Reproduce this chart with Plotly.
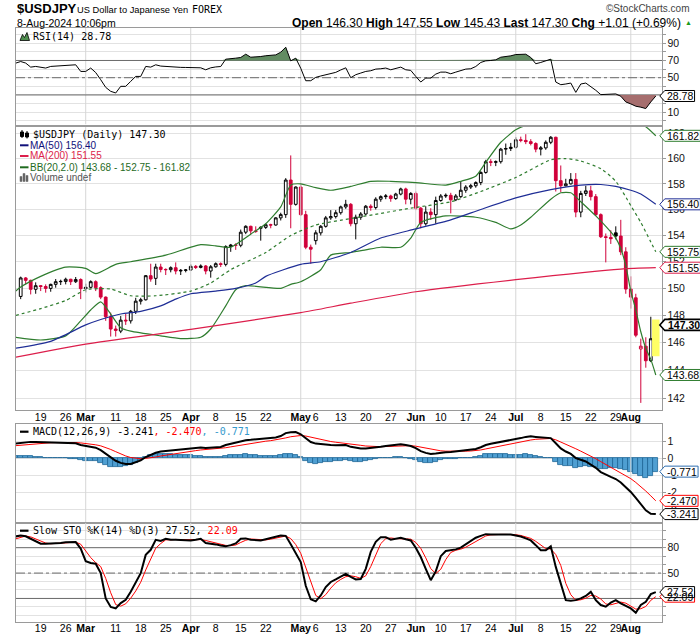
import numpy as np
import pandas as pd
import plotly.graph_objects as go

# ------------------------------------------------------------------ data
days = [d.strftime("%Y-%m-%d") for d in pd.bdate_range("2024-02-12", "2024-08-08")]
pos = {d: k for k, d in enumerate(days)}
candle_days = days[1:]

opens = [149.40, 150.78, 150.60, 149.93, 150.20, 150.14, 150.00, 150.30, 150.50, 150.52,
         150.68, 150.50, 150.66, 149.98, 150.08, 150.50, 150.05, 149.35, 147.90, 147.00,
         146.85, 147.65, 147.60, 148.30, 149.05, 149.15, 150.95, 150.75, 151.60, 151.42,
         151.40, 151.55, 151.30, 151.35, 151.38, 151.65, 151.57, 151.68, 151.30, 151.62,
         151.85, 151.80, 153.15, 153.27, 153.25, 154.25, 154.70, 154.35, 154.55, 154.62,
         154.82, 154.80, 155.35, 155.60, 158.30, 156.40, 157.75, 155.60, 153.10, 153.60,
         154.20, 154.70, 155.35, 155.45, 155.75, 156.20, 156.40, 154.90, 155.40, 155.65,
         156.25, 156.15, 156.80, 157.00, 157.05, 156.85, 157.20, 157.60, 156.80, 157.25,
         156.10, 154.90, 155.80, 155.60, 156.70, 157.05, 157.10, 156.75, 157.00, 157.50,
         157.75, 157.85, 158.10, 158.90, 159.75, 159.70, 159.75, 160.75, 160.80, 160.90,
         161.50, 161.45, 161.35, 161.20, 160.75, 160.85, 161.30, 161.70, 158.25, 157.85,
         158.00, 158.35, 155.80, 157.25, 157.45, 157.00, 155.60, 153.90, 153.85, 154.20,
         153.95, 152.75, 149.95, 149.30, 145.55, 145.75, 144.70, 146.30]
highs = [150.88, 150.85, 150.65, 150.45, 150.25, 150.30, 150.35, 150.70, 150.65, 150.80,
         150.72, 150.85, 150.75, 150.35, 150.60, 150.60, 150.15, 149.40, 148.20, 147.25,
         147.95, 148.10, 148.40, 149.30, 149.30, 151.00, 151.85, 151.85, 151.85, 151.50,
         151.65, 151.95, 151.45, 151.45, 151.80, 151.75, 151.80, 151.75, 151.75, 151.95,
         151.95, 153.25, 153.35, 153.40, 154.45, 154.78, 154.75, 154.70, 154.70, 154.90,
         154.90, 155.40, 155.75, 158.45, 160.25, 157.80, 157.95, 155.90, 153.30, 154.40,
         154.80, 155.50, 155.95, 155.95, 156.30, 156.75, 156.50, 155.60, 155.80, 156.35,
         156.40, 156.95, 157.10, 157.20, 157.15, 157.30, 157.70, 157.70, 157.35, 157.40,
         156.20, 156.25, 156.10, 157.00, 157.20, 157.25, 157.30, 157.20, 158.20, 157.90,
         158.00, 158.20, 159.00, 159.90, 159.95, 159.85, 160.85, 161.20, 161.25, 161.70,
         161.75, 161.95, 161.55, 161.30, 161.00, 161.45, 161.80, 161.75, 159.45, 158.40,
         158.85, 158.85, 157.45, 157.85, 157.85, 157.20, 155.70, 154.15, 154.40, 154.70,
         155.20, 153.10, 150.90, 149.60, 146.30, 146.40, 147.90, 147.55]
lows = [149.20, 150.30, 149.55, 149.60, 149.80, 149.68, 149.75, 150.05, 150.25, 150.30,
        150.25, 150.40, 149.20, 149.70, 150.00, 149.80, 149.20, 147.60, 146.45, 146.45,
        146.70, 147.30, 147.40, 148.10, 148.80, 149.10, 150.50, 150.25, 151.20, 151.00,
        151.20, 151.05, 151.00, 151.20, 151.30, 151.45, 151.50, 151.05, 150.80, 151.55,
        151.60, 151.65, 152.75, 152.90, 153.10, 154.10, 154.10, 154.20, 153.60, 154.50,
        154.55, 154.75, 155.15, 155.35, 154.55, 156.30, 155.50, 152.95, 151.85, 153.30,
        154.00, 154.60, 155.20, 155.30, 155.60, 156.05, 154.70, 153.70, 155.20, 155.55,
        155.90, 156.00, 156.60, 156.80, 156.60, 156.75, 157.10, 156.40, 156.40, 155.95,
        154.55, 154.75, 155.20, 154.90, 156.60, 156.90, 155.70, 156.65, 156.90, 157.30,
        157.60, 157.70, 157.90, 158.80, 159.40, 159.40, 159.60, 160.30, 160.60, 160.80,
        161.30, 161.15, 161.05, 160.50, 160.25, 160.70, 161.15, 157.40, 157.35, 157.80,
        157.95, 155.40, 155.40, 157.05, 156.70, 155.50, 153.80, 151.95, 153.35, 153.70,
        152.50, 149.60, 148.50, 146.40, 141.70, 144.20, 144.60, 145.43]
closes = [150.78, 150.60, 149.93, 150.20, 150.14, 150.00, 150.30, 150.50, 150.52, 150.68,
          150.50, 150.66, 149.98, 150.08, 150.50, 150.05, 149.35, 147.90, 147.00, 146.90,
          147.65, 147.60, 148.30, 149.05, 149.15, 150.95, 150.70, 151.60, 151.42, 151.40,
          151.55, 151.30, 151.35, 151.38, 151.65, 151.57, 151.68, 151.30, 151.62, 151.85,
          151.80, 153.15, 153.27, 153.25, 154.25, 154.70, 154.35, 154.30, 154.62, 154.82,
          154.80, 155.35, 155.60, 158.30, 156.40, 157.75, 155.60, 153.10, 152.95, 154.20,
          154.70, 155.35, 155.45, 155.75, 156.20, 156.40, 154.90, 155.40, 155.65, 156.25,
          156.15, 156.80, 157.00, 157.05, 156.85, 157.20, 157.60, 156.80, 157.25, 156.10,
          154.90, 155.80, 155.60, 156.70, 157.05, 157.10, 156.75, 157.05, 157.50, 157.75,
          157.85, 158.10, 158.90, 159.75, 159.70, 159.75, 160.75, 160.80, 160.90, 161.50,
          161.45, 161.35, 161.20, 160.75, 160.85, 161.30, 161.70, 158.25, 157.85, 158.00,
          158.35, 155.80, 157.25, 157.45, 157.00, 155.60, 153.90, 153.85, 153.75, 153.95,
          152.75, 149.95, 149.35, 146.55, 145.75, 144.70, 146.29, 147.30]
prev_close_first = 149.35   # close of 12-Feb

ma50_days = ["2024-02-12", "2024-02-21", "2024-03-01", "2024-03-06", "2024-03-12", "2024-03-18",
             "2024-03-22", "2024-03-27", "2024-04-01", "2024-04-08", "2024-04-12", "2024-04-18",
             "2024-04-22", "2024-05-01", "2024-05-07", "2024-05-15", "2024-05-23", "2024-06-03",
             "2024-06-12", "2024-06-20", "2024-07-01", "2024-07-10", "2024-07-18", "2024-07-24",
             "2024-07-29", "2024-08-01", "2024-08-05", "2024-08-08"]
ma50_vals = [145.6, 146.1, 147.3, 147.7, 148.1, 148.3, 148.7, 149.2, 149.6, 149.8, 150.0, 150.4,
             150.9, 151.8, 152.0, 152.7, 153.8, 154.5, 155.2, 156.0, 156.9, 157.55, 157.9, 157.95,
             157.8, 157.5, 157.2, 156.40]

ma200_days = ["2024-02-12", "2024-03-01", "2024-04-01", "2024-05-01", "2024-05-15", "2024-06-03",
              "2024-07-01", "2024-07-30", "2024-08-08"]
ma200_vals = [144.95, 145.9, 146.97, 148.2, 148.9, 149.75, 150.65, 151.45, 151.55]

bbm_days = ["2024-02-12", "2024-02-19", "2024-02-26", "2024-03-01", "2024-03-08", "2024-03-14",
            "2024-03-21", "2024-04-01", "2024-04-05", "2024-04-11", "2024-04-22", "2024-04-29",
            "2024-05-06", "2024-05-15", "2024-05-23", "2024-05-31", "2024-06-12", "2024-06-20",
            "2024-07-01", "2024-07-10", "2024-07-15", "2024-07-18", "2024-07-24", "2024-07-29",
            "2024-08-01", "2024-08-05", "2024-08-07", "2024-08-08"]
bbm_vals = [148.0, 148.5, 149.1, 149.9, 149.95, 149.45, 149.45, 149.8, 150.4, 151.4, 152.7, 154.0,
            154.8, 155.3, 155.7, 156.1, 156.6, 157.4, 158.5, 159.9, 160.0, 159.8, 159.2, 158.2,
            156.3, 155.0, 153.5, 152.75]

bbu_days = ["2024-02-12", "2024-02-13", "2024-02-19", "2024-02-26", "2024-03-01", "2024-03-05",
            "2024-03-11", "2024-03-14", "2024-03-25", "2024-04-03", "2024-04-08", "2024-04-11",
            "2024-04-17", "2024-04-22", "2024-04-25", "2024-04-29", "2024-05-01", "2024-05-06",
            "2024-05-09", "2024-05-15", "2024-05-21", "2024-05-27", "2024-06-03", "2024-06-11",
            "2024-06-14", "2024-06-19", "2024-06-21", "2024-06-26", "2024-07-01", "2024-07-03",
            "2024-07-09", "2024-07-16", "2024-07-23", "2024-07-30", "2024-08-05", "2024-08-06",
            "2024-08-08"]
bbu_vals = [149.8, 150.1, 150.9, 151.6, 151.5, 151.1, 151.8, 152.0, 152.5, 153.3, 153.2, 153.1,
            154.1, 154.9, 156.2, 157.9, 158.0, 157.7, 157.5, 157.8, 158.2, 158.2, 158.1, 157.9,
            158.2, 158.6, 159.7, 161.3, 162.3, 162.65, 163.0, 163.2, 163.0, 162.9, 162.7, 162.55,
            161.82]

bbl_days = ["2024-02-12", "2024-02-19", "2024-02-26", "2024-02-29", "2024-03-04", "2024-03-06",
            "2024-03-08", "2024-03-12", "2024-03-14", "2024-03-22", "2024-03-28", "2024-04-03",
            "2024-04-05", "2024-04-10", "2024-04-12", "2024-04-16", "2024-04-25", "2024-04-29",
            "2024-05-01", "2024-05-07", "2024-05-09", "2024-05-15", "2024-05-20", "2024-05-23",
            "2024-05-29", "2024-05-31", "2024-06-04", "2024-06-11", "2024-06-19", "2024-06-25",
            "2024-06-28", "2024-07-02", "2024-07-04", "2024-07-10", "2024-07-12", "2024-07-16",
            "2024-07-18", "2024-07-23", "2024-07-25", "2024-07-29", "2024-07-30", "2024-07-31",
            "2024-08-01", "2024-08-02", "2024-08-05", "2024-08-06", "2024-08-07", "2024-08-08"]
bbl_vals = [146.4, 146.2, 146.5, 147.6, 148.4, 149.0, 148.1, 147.1, 146.85, 146.5, 146.3, 146.4,
            147.0, 148.7, 149.9, 150.2, 150.0, 150.3, 150.5, 151.4, 152.5, 152.7, 152.9, 153.1,
            153.1, 153.8, 155.0, 155.5, 155.4, 155.0, 154.5, 154.8, 155.4, 156.8, 157.3, 157.3,
            156.6, 155.5, 154.7, 153.8, 153.0, 151.7, 149.8, 148.4, 146.8, 145.6, 144.8, 143.68]

rsi = [66.9, 68.8, 67.0, 62.3, 63.1, 62.3, 61.2, 63.1, 63.5, 63.8,
       64.0, 64.2, 65.0, 57.3, 57.3, 61.2, 56.0, 47.7, 38.8, 34.2,
       32.3, 40.0, 40.0, 45.8, 51.5, 51.5, 63.1, 62.3, 65.0, 63.5,
       63.0, 63.0, 62.3, 62.0, 61.9, 62.0, 61.9, 61.5, 59.2, 61.5,
       62.5, 63.0, 71.5, 72.5, 72.7, 73.5, 77.3, 73.8, 74.0, 74.6,
       75.5, 76.0, 76.5, 79.6, 85.4, 69.6, 72.7, 61.0, 46.5, 46.5,
       50.4, 52.0, 53.5, 55.0, 56.2, 59.0, 61.5, 50.0, 53.5, 55.4,
       57.3, 58.1, 60.0, 60.4, 61.2, 59.2, 61.2, 62.3, 59.2, 58.5,
       51.5, 45.0, 49.6, 49.6, 54.2, 56.5, 56.5, 54.6, 56.5, 58.0,
       60.0, 60.4, 63.0, 67.7, 69.6, 70.0, 70.8, 73.8, 74.2, 75.4,
       76.9, 77.3, 77.3, 73.5, 66.2, 67.7, 69.6, 71.5, 45.0, 41.9,
       42.7, 43.8, 33.0, 42.7, 43.8, 40.0, 35.4, 30.4, 30.4, 31.2,
       31.2, 28.5, 21.9, 19.6, 16.9, 15.8, 14.2, 21.9, 28.78]

macd = [0.86, 0.90, 0.94, 0.96, 0.96, 0.95, 0.95, 0.95, 0.95, 0.94,
        0.93, 0.90, 0.88, 0.78, 0.72, 0.70, 0.62, 0.48, 0.26, 0.04,
        -0.14, -0.26, -0.33, -0.33, -0.24, -0.12, 0.08, 0.20, 0.33, 0.40,
        0.44, 0.48, 0.50, 0.52, 0.55, 0.58, 0.61, 0.63, 0.61, 0.62,
        0.64, 0.66, 0.78, 0.86, 0.92, 1.00, 1.06, 1.08, 1.10, 1.12,
        1.15, 1.18, 1.22, 1.30, 1.47, 1.52, 1.53, 1.40, 1.15, 0.95,
        0.86, 0.82, 0.80, 0.78, 0.77, 0.78, 0.78, 0.67, 0.60, 0.57,
        0.58, 0.60, 0.63, 0.68, 0.72, 0.74, 0.78, 0.82, 0.78, 0.72,
        0.60, 0.42, 0.32, 0.25, 0.28, 0.33, 0.36, 0.37, 0.40, 0.42,
        0.45, 0.48, 0.55, 0.65, 0.78, 0.85, 0.90, 0.98, 1.03, 1.08,
        1.12, 1.18, 1.25, 1.28, 1.25, 1.22, 1.20, 1.18, 0.88, 0.58,
        0.40, 0.26, 0.02, -0.08, -0.18, -0.36, -0.55, -0.80, -0.95, -1.08,
        -1.20, -1.40, -1.68, -1.95, -2.30, -2.68, -3.02, -3.22, -3.241]
signal = [0.74, 0.77, 0.80, 0.83, 0.86, 0.88, 0.90, 0.91, 0.92, 0.93,
          0.93, 0.93, 0.92, 0.90, 0.87, 0.83, 0.79, 0.73, 0.64, 0.52,
          0.39, 0.26, 0.14, 0.05, 0.00, -0.02, 0.00, 0.03, 0.08, 0.14,
          0.19, 0.24, 0.29, 0.33, 0.37, 0.41, 0.45, 0.49, 0.51, 0.54,
          0.56, 0.58, 0.62, 0.67, 0.72, 0.78, 0.83, 0.88, 0.92, 0.96,
          1.00, 1.03, 1.07, 1.12, 1.19, 1.26, 1.31, 1.33, 1.30, 1.23,
          1.16, 1.09, 1.03, 0.98, 0.94, 0.91, 0.89, 0.85, 0.80, 0.76,
          0.72, 0.70, 0.69, 0.68, 0.69, 0.70, 0.71, 0.73, 0.74, 0.74,
          0.71, 0.65, 0.59, 0.52, 0.47, 0.44, 0.42, 0.41, 0.41, 0.41,
          0.42, 0.43, 0.45, 0.49, 0.55, 0.61, 0.67, 0.74, 0.80, 0.86,
          0.91, 0.97, 1.02, 1.07, 1.11, 1.13, 1.15, 1.16, 1.08, 0.96,
          0.83, 0.70, 0.56, 0.42, 0.28, 0.14, -0.02, -0.19, -0.35, -0.50,
          -0.65, -0.81, -0.99, -1.18, -1.40, -1.64, -1.90, -2.18, -2.470]
hist = [0.12, 0.13, 0.14, 0.13, 0.10, 0.07, 0.05, 0.04, 0.03, 0.01,
        0.00, -0.03, -0.04, -0.12, -0.15, -0.13, -0.17, -0.25, -0.38, -0.48,
        -0.53, -0.52, -0.47, -0.38, -0.24, -0.10, 0.08, 0.17, 0.25, 0.26,
        0.25, 0.24, 0.21, 0.19, 0.18, 0.17, 0.16, 0.14, 0.10, 0.08,
        0.08, 0.08, 0.16, 0.19, 0.20, 0.22, 0.23, 0.20, 0.18, 0.16,
        0.15, 0.15, 0.15, 0.18, 0.28, 0.26, 0.22, 0.07, -0.15, -0.28,
        -0.30, -0.27, -0.23, -0.20, -0.17, -0.13, -0.11, -0.18, -0.20, -0.19,
        -0.14, -0.10, -0.06, 0.00, 0.03, 0.04, 0.07, 0.09, 0.04, -0.02,
        -0.11, -0.23, -0.27, -0.27, -0.19, -0.11, -0.06, -0.04, -0.01, 0.01,
        0.03, 0.05, 0.10, 0.16, 0.23, 0.24, 0.23, 0.24, 0.23, 0.22,
        0.21, 0.21, 0.23, 0.21, 0.14, 0.09, 0.05, 0.02, -0.20, -0.38,
        -0.43, -0.44, -0.54, -0.50, -0.46, -0.50, -0.53, -0.61, -0.60, -0.58,
        -0.55, -0.59, -0.69, -0.77, -0.90, -1.04, -1.12, -1.04, -0.771]

sto_k = [93.3, 94.5, 93.5, 90.5, 87.0, 84.7, 84.7, 84.7, 85.0, 85.5,
         86.5, 86.7, 86.7, 79.0, 64.0, 62.0, 61.0, 50.0, 20.0, 10.0,
         8.2, 14.5, 18.5, 28.0, 39.8, 49.8, 71.5, 77.5, 89.3, 88.0,
         90.6, 89.4, 89.4, 89.4, 89.0, 88.6, 89.5, 90.6, 85.5, 85.0,
         83.9, 82.5, 81.6, 83.0, 85.0, 90.5, 91.0, 89.4, 89.0, 88.6,
         90.0, 91.8, 93.0, 94.3, 94.0, 84.0, 73.0, 63.0, 35.0, 19.0,
         16.5, 23.5, 33.5, 39.5, 42.5, 45.5, 49.0, 45.5, 42.5, 43.0,
         55.0, 75.0, 87.0, 92.5, 92.5, 89.4, 90.5, 91.8, 90.0, 88.6,
         80.0, 69.0, 55.0, 41.6, 52.0, 70.0, 76.1, 77.0, 78.0, 80.0,
         83.9, 88.0, 91.8, 94.0, 96.0, 95.7, 95.7, 95.7, 95.7, 95.7,
         94.5, 93.3, 91.0, 88.6, 83.0, 76.9, 76.9, 81.6, 57.3, 38.0,
         18.0, 17.3, 18.0, 20.0, 23.0, 27.8, 18.0, 12.2, 10.2, 15.0,
         18.0, 14.1, 11.0, 8.2, 3.1, 12.2, 16.1, 25.1, 27.52]
sto_d = [90.5, 92.5, 93.8, 92.8, 90.3, 87.4, 85.5, 84.7, 84.8, 85.1,
         85.7, 86.2, 86.6, 84.1, 76.6, 68.3, 62.3, 57.7, 43.7, 26.7,
         12.7, 10.9, 13.7, 20.3, 28.8, 39.2, 53.7, 66.3, 79.4, 84.9,
         89.3, 89.3, 89.8, 89.4, 89.3, 89.0, 89.0, 89.6, 88.5, 87.0,
         84.8, 83.8, 82.7, 82.4, 83.2, 86.2, 88.8, 90.3, 89.8, 89.0,
         89.2, 90.1, 91.6, 93.0, 93.8, 90.8, 83.7, 73.3, 57.0, 39.0,
         23.5, 19.7, 24.5, 32.2, 38.5, 42.5, 45.7, 46.7, 45.7, 43.7,
         46.8, 57.7, 72.3, 84.8, 90.7, 91.5, 90.8, 90.6, 90.8, 90.1,
         86.2, 79.2, 68.0, 55.2, 49.5, 54.5, 66.0, 74.4, 77.0, 78.3,
         80.6, 84.0, 87.9, 91.3, 93.9, 95.2, 95.8, 95.7, 95.7, 95.7,
         95.3, 94.5, 92.9, 91.0, 87.5, 82.8, 78.9, 78.5, 71.9, 59.0,
         37.8, 24.4, 17.8, 18.4, 20.3, 23.6, 22.9, 19.3, 13.5, 12.5,
         14.4, 15.7, 14.4, 11.1, 7.4, 7.8, 10.5, 17.8, 22.09]

label_days = ["2024-02-19", "2024-02-26", "2024-03-01", "2024-03-11", "2024-03-18", "2024-03-25",
              "2024-04-01", "2024-04-08", "2024-04-15", "2024-04-22", "2024-05-01", "2024-05-06",
              "2024-05-13", "2024-05-20", "2024-05-27", "2024-06-03", "2024-06-10", "2024-06-17",
              "2024-06-24", "2024-07-01", "2024-07-08", "2024-07-15", "2024-07-22", "2024-07-29",
              "2024-08-01"]
label_text = ["19", "26", "<b>Mar</b>", "11", "18", "25", "<b>Apr</b>", "8", "15", "22", "<b>May</b>",
              "6", "13", "20", "27", "<b>Jun</b>", "10", "17", "24", "<b>Jul</b>", "8", "15", "22",
              "29", "<b>Aug</b>"]
month_days = ["2024-03-01", "2024-04-01", "2024-05-01", "2024-06-03", "2024-07-01", "2024-08-01"]

# ------------------------------------------------------------------ geometry / style
W, H = 700, 639
L, R = 16.0, 662.3
XR = [0.06, 129.3]
SANS = "Liberation Sans, Arial, sans-serif"
MONO = "DejaVu Sans Mono, monospace"
GRID = "#e2e2e2"
BORDER = "#9a9a9a"
DARK = "#6a6a6a"
RED_C = "#d0003a"
BLUE = "#1f2e96"
CRIMSON = "#dc1e4b"
GREEN = "#2f7d2f"

panels = {  # pixel top, bottom, range, log?
    1: (28.0, 124.5, [-4.3, 107.7], False),
    2: (126.5, 410.0, [np.log10(141.2), np.log10(162.57)], True),
    3: (424.0, 522.5, [-3.73, 2.0], False),
    4: (522.5, 621.7, [-7.5, 109.8], False),
}
yrange_data = {1: [-4.3, 107.7], 2: [141.2, 162.57], 3: [-3.73, 2.0], 4: [-7.5, 109.8]}


def paper_y(k, v):
    top, bot, rng, lg = panels[k]
    vv = np.log10(v) if lg else v
    frac = (vv - rng[0]) / (rng[1] - rng[0])
    return (1 - bot / H) + frac * ((bot - top) / H)


def ax(k):
    return ("x", "y") if k == 1 else (f"x{k}", f"y{k}")


xs = [pos[d] for d in days]
cx = [pos[d] for d in candle_days]

fig = go.Figure()

# month grid lines and reference levels (drawn first, under the data)
for k in (1, 2, 3, 4):
    xa, ya = ax(k)
    for d in month_days:
        fig.add_trace(go.Scatter(x=[pos[d], pos[d]], y=yrange_data[k], mode="lines",
                                 line=dict(color="#d6d6d6", width=1), xaxis=xa, yaxis=ya, hoverinfo="skip"))
for k, lv, dash in [(1, 70, "solid"), (1, 30, "solid"), (1, 50, "dashdot"),
                    (4, 80, "solid"), (4, 20, "solid"), (4, 50, "dashdot")]:
    xa, ya = ax(k)
    fig.add_trace(go.Scatter(x=XR, y=[lv, lv], mode="lines", line=dict(color=DARK, width=1, dash=dash),
                             xaxis=xa, yaxis=ya, hoverinfo="skip"))

# ---------------- RSI panel
fig.add_trace(go.Scatter(x=xs, y=[70] * len(xs), mode="lines", line=dict(width=0),
                         xaxis="x", yaxis="y", hoverinfo="skip"))
fig.add_trace(go.Scatter(x=xs, y=np.maximum(rsi, 70), mode="lines", line=dict(width=0),
                         fill="tonexty", fillcolor="#628c62", xaxis="x", yaxis="y", hoverinfo="skip"))
fig.add_trace(go.Scatter(x=xs, y=[30] * len(xs), mode="lines", line=dict(width=0),
                         xaxis="x", yaxis="y", hoverinfo="skip"))
fig.add_trace(go.Scatter(x=xs, y=np.minimum(rsi, 30), mode="lines", line=dict(width=0),
                         fill="tonexty", fillcolor="#a66e6e", xaxis="x", yaxis="y", hoverinfo="skip"))
fig.add_trace(go.Scatter(x=xs, y=rsi, mode="lines", line=dict(color="black", width=1),
                         xaxis="x", yaxis="y"))

# ---------------- price panel
last = len(closes) - 1
lx = cx[last]
fig.add_trace(go.Scatter(x=[lx - 0.75, lx + 0.75, lx + 0.75, lx - 0.75],
                         y=[lows[last] - 0.4, lows[last] - 0.4, highs[last] + 0.15, highs[last] + 0.15],
                         fill="toself", fillcolor="#ffff66", line=dict(width=0), mode="lines",
                         xaxis="x2", yaxis="y2", hoverinfo="skip"))
for dd, vv, dash in [(bbu_days, bbu_vals, "solid"), (bbl_days, bbl_vals, "solid"), (bbm_days, bbm_vals, "dot")]:
    fig.add_trace(go.Scatter(x=[pos[d] for d in dd], y=vv, mode="lines",
                             line=dict(color=GREEN, width=1.2, dash=dash, shape="spline", smoothing=0.6),
                             xaxis="x2", yaxis="y2"))
fig.add_trace(go.Scatter(x=[pos[d] for d in ma200_days], y=ma200_vals, mode="lines",
                         line=dict(color=CRIMSON, width=1.2, shape="spline", smoothing=0.6), xaxis="x2", yaxis="y2"))
fig.add_trace(go.Scatter(x=[pos[d] for d in ma50_days], y=ma50_vals, mode="lines",
                         line=dict(color=BLUE, width=1.2, shape="spline", smoothing=0.6), xaxis="x2", yaxis="y2"))

prev = [prev_close_first] + closes[:-1]
up_idx = [k for k in range(len(closes)) if closes[k] >= prev[k]]
dn_idx = [k for k in range(len(closes)) if closes[k] < prev[k]]
for idx, col in [(up_idx, "black"), (dn_idx, RED_C)]:
    fig.add_trace(go.Candlestick(
        x=[cx[k] for k in idx], open=[opens[k] for k in idx], high=[highs[k] for k in idx],
        low=[lows[k] for k in idx], close=[closes[k] for k in idx],
        increasing=dict(line=dict(color=col, width=1), fillcolor="white"),
        decreasing=dict(line=dict(color=col, width=1), fillcolor=col),
        xaxis="x2", yaxis="y2", whiskerwidth=0))

# ---------------- MACD panel
fig.add_trace(go.Bar(x=xs, y=hist, width=1.0, marker=dict(color="#4f9fd2", line=dict(color="#1d6496", width=0.8)),
                     xaxis="x3", yaxis="y3"))
fig.add_trace(go.Scatter(x=xs, y=signal, mode="lines", line=dict(color="#ff0000", width=1), xaxis="x3", yaxis="y3"))
fig.add_trace(go.Scatter(x=xs, y=macd, mode="lines", line=dict(color="black", width=2), xaxis="x3", yaxis="y3"))

# ---------------- STO panel
fig.add_trace(go.Scatter(x=xs, y=sto_d, mode="lines", line=dict(color="#ff0000", width=1), xaxis="x4", yaxis="y4"))
fig.add_trace(go.Scatter(x=xs, y=sto_k, mode="lines", line=dict(color="black", width=2), xaxis="x4", yaxis="y4"))

# ------------------------------------------------------------------ axes
layout = dict(width=W, height=H, margin=dict(l=0, r=0, t=0, b=0), showlegend=False,
              paper_bgcolor="white", plot_bgcolor="white", boxgap=0.22, bargap=0,
              font=dict(family=SANS, size=11, color="black"))

tickfont = dict(family=SANS, size=10.5, color="#111")
for k in (1, 2, 3, 4):
    top, bot, rng, lg = panels[k]
    xa = dict(domain=[L / W, R / W], range=XR, anchor="y" if k == 1 else f"y{k}",
              showgrid=False, zeroline=False, showline=True, linecolor=BORDER, linewidth=1,
              mirror=True, ticks="", fixedrange=True, rangeslider=dict(visible=False), tickangle=0,
              ticklabelstandoff=-3)
    if k in (2, 4):
        xa.update(tickmode="array", tickvals=[pos[d] for d in label_days], ticktext=label_text,
                  tickfont=dict(family=SANS, size=10.5, color="black"), showticklabels=True)
    else:
        xa.update(showticklabels=False)
    ya = dict(domain=[1 - bot / H, 1 - top / H], range=rng, side="right",
              anchor="x" if k == 1 else f"x{k}", showgrid=True, gridcolor=GRID, gridwidth=1,
              zeroline=False, showline=True, linecolor=BORDER, linewidth=1, mirror=True,
              ticks="outside", ticklen=3, tickcolor=BORDER, tickfont=tickfont, fixedrange=True,
              ticklabelstandoff=-1)
    if k == 1:
        tv = list(range(0, 101, 10))
        ya.update(tickmode="array", tickvals=tv, ticktext=[str(v) if v in (10, 30, 50, 70, 90) else "" for v in tv])
    elif k == 2:
        tv = list(range(142, 163, 2))
        ya.update(type="log", tickmode="array", tickvals=tv, ticktext=[str(v) for v in tv])
    elif k == 3:
        tv = [1, 0, -1, -2, -3]
        ya.update(tickmode="array", tickvals=tv, ticktext=[str(v) for v in tv])
    else:
        tv = list(range(0, 101, 10))
        ya.update(tickmode="array", tickvals=tv, ticktext=[str(v) if v in (20, 50, 80) else "" for v in tv])
    layout["xaxis" if k == 1 else f"xaxis{k}"] = xa
    layout["yaxis" if k == 1 else f"yaxis{k}"] = ya

shapes = []
ann = []


def A(x, y, text, size=10, family=SANS, color="black", xanchor="left"):
    ann.append(dict(xref="paper", yref="paper", x=x / W, y=1 - y / H, text=text, showarrow=False,
                    xanchor=xanchor, yanchor="middle", borderpad=0,
                    font=dict(size=size, family=family, color=color)))


def twidth(s, fs=10.5):
    w = 0
    for ch in s:
        w += {".": 0.278, "-": 0.333, ",": 0.278}.get(ch, 0.556)
    return w * fs


def tag(k, val, text, color, bold=False):
    yp = paper_y(k, val)
    w = twidth(text) + (8 if bold else 6)
    xa0 = R / W
    pts = [(-2.5, 0), (2.5, 5.5), (w, 5.5), (w, -5.5), (2.5, -5.5)]
    path = "M " + " L ".join(f"{(xa0 + px_ / W):.5f},{(yp + py_ / H):.5f}" for px_, py_ in pts) + " Z"
    shapes.append(dict(type="path", xref="paper", yref="paper", path=path,
                       fillcolor="white", line=dict(color=color, width=1.6 if bold else 1), layer="above"))
    ann.append(dict(xref="paper", yref="paper", x=(R + (2.5 + w) / 2 + 0.5) / W, y=yp,
                    text=f"<b>{text}</b>" if bold else text, showarrow=False, xanchor="center",
                    yanchor="middle", borderpad=0, font=dict(size=10.5, family=SANS, color="black")))


def icon(x0, y0, pts_list, fill, line_color, lw=1.0):
    """small legend glyph; pts in pixels relative to (x0, y0), y downwards"""
    segs = []
    for pts in pts_list:
        segs.append("M " + " L ".join(f"{(x0 + a) / W:.5f},{1 - (y0 + b) / H:.5f}" for a, b in pts) + " Z")
    shapes.append(dict(type="path", xref="paper", yref="paper", path=" ".join(segs),
                       fillcolor=fill, line=dict(color=line_color, width=lw), layer="above"))


tag(1, rsi[-1], f"{rsi[-1]:.2f}", "black")
tag(2, bbu_vals[-1], f"{bbu_vals[-1]:.2f}", GREEN)
tag(2, ma50_vals[-1], f"{ma50_vals[-1]:.2f}", BLUE)
tag(2, bbm_vals[-1], f"{bbm_vals[-1]:.2f}", GREEN)
tag(2, ma200_vals[-1], f"{ma200_vals[-1]:.2f}", CRIMSON)
tag(2, closes[-1], f"{closes[-1]:.2f}", "black", bold=True)
tag(2, bbl_vals[-1], f"{bbl_vals[-1]:.2f}", GREEN)
tag(3, hist[-1], f"{hist[-1]:.3f}", "#2f6fb0")
tag(3, signal[-1], f"{signal[-1]:.3f}", "#ff0000")
tag(3, macd[-1], f"{macd[-1]:.3f}", "black")
tag(4, sto_d[-1], f"{sto_d[-1]:.2f}", "#ff0000")
tag(4, sto_k[-1], f"{sto_k[-1]:.2f}", "black")

# ---------------- header
A(16, 9.0, "<b>$USDJPY</b>", size=13)
A(76, 9.6, "US Dollar to Japanese Yen", size=9.3)
A(191, 9.6, "FOREX", size=10, family=MONO)
A(16, 23.0, "8-Aug-2024 10:06pm", size=10.5)
A(691, 8.5, "©StockCharts.com", size=10, color="#444", xanchor="right")
A(682, 23.0, f"<b>Open</b> {opens[-1]:.2f} <b>High</b> {highs[-1]:.2f} <b>Low</b> {lows[-1]:.2f} "
             f"<b>Last</b> {closes[-1]:.2f} <b>Chg</b> +1.01 (+0.69%)", size=12, xanchor="right")
A(684, 23.0, "▲", size=7, color="#1a9a1a")

# ---------------- legends
A(31.7, 36.7, f"RSI(14) {rsi[-1]:.2f}", size=10, family=MONO)
icon(20, 40.5, [[(0, 0), (2.5, -6), (4.5, -3), (7, -8), (9.5, 0)]], "#4f8f4f", "black", 0.8)

A(31.7, 134.0, f"$USDJPY (Daily) {closes[-1]:.2f}", size=10, family=MONO)
icon(20, 134, [[(0.5, -2), (3.5, -2), (3.5, 2.5), (0.5, 2.5)], [(5.5, -1), (8.5, -1), (8.5, 3), (5.5, 3)]],
     "black", "black", 1)
shapes.append(dict(type="line", xref="paper", yref="paper", x0=22 / W, x1=22 / W, y0=1 - 130 / H, y1=1 - 138 / H,
                   line=dict(color="black", width=1), layer="above"))
shapes.append(dict(type="line", xref="paper", yref="paper", x0=27 / W, x1=27 / W, y0=1 - 131 / H, y1=1 - 138.5 / H,
                   line=dict(color="black", width=1), layer="above"))
for yy, txt, col in [(145.3, f"MA(50) {ma50_vals[-1]:.2f}", "#10107a"),
                     (156.0, f"MA(200) {ma200_vals[-1]:.2f}", CRIMSON),
                     (167.3, f"BB(20,2.0) {bbl_vals[-1]:.2f} - {bbm_vals[-1]:.2f} - {bbu_vals[-1]:.2f}", "#1f6b1f")]:
    shapes.append(dict(type="line", xref="paper", yref="paper", x0=20 / W, x1=28.5 / W,
                       y0=1 - yy / H, y1=1 - yy / H, line=dict(color=col, width=2), layer="above"))
    A(29.3, yy, txt, size=10, color=col)
icon(20, 181.5, [[(0, 0), (0, -5), (2, -5), (2, 0)], [(3, 0), (3, -8), (5, -8), (5, 0)],
                 [(6, 0), (6, -6), (8, -6), (8, 0)]], "#666", "#666", 0.5)
A(29.3, 177.3, "Volume undef", size=10, color="#555")

shapes.append(dict(type="line", xref="paper", yref="paper", x0=20 / W, x1=28.5 / W,
                   y0=1 - 431.7 / H, y1=1 - 431.7 / H, line=dict(color="black", width=2.2), layer="above"))
A(31.7, 431.7, f"MACD(12,26,9) {macd[-1]:.3f}<span style='color:#ff0000'>, {signal[-1]:.3f}</span>"
               f"<span style='color:#3399cc'>, {hist[-1]:.3f}</span>", size=10, family=MONO)
shapes.append(dict(type="line", xref="paper", yref="paper", x0=20 / W, x1=28.5 / W,
                   y0=1 - 530.7 / H, y1=1 - 530.7 / H, line=dict(color="black", width=2.2), layer="above"))
A(31.7, 530.7, f"Slow STO %K(14) %D(3) {sto_k[-1]:.2f}, <span style='color:#ff0000'>{sto_d[-1]:.2f}</span>",
  size=10, family=MONO)

layout["shapes"] = shapes
layout["annotations"] = ann
fig.update_layout(**layout)

fig.write_html("out.html", config={"displayModeBar": False},
               post_script="document.body.style.margin='0px';document.body.style.padding='0px';"
                           "document.body.style.overflow='hidden';")
